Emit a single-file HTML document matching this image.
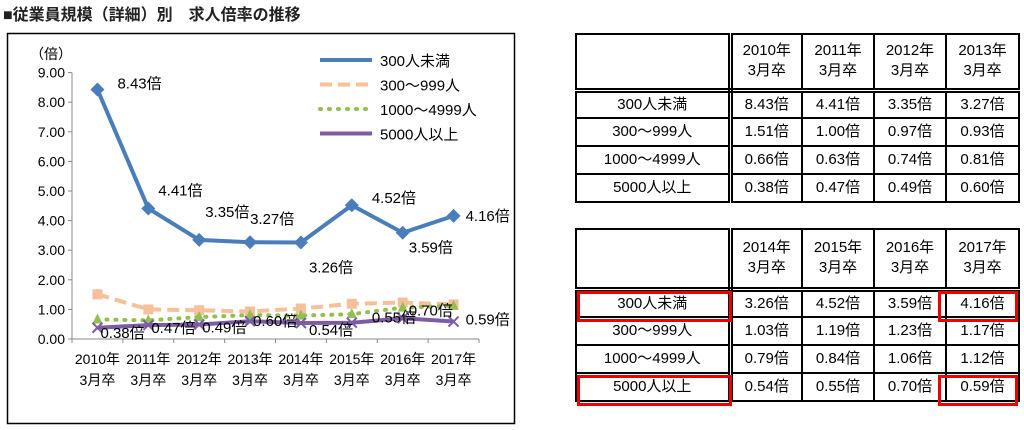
<!DOCTYPE html>
<html><head><meta charset="utf-8"><style>
body{margin:0;width:1024px;height:430px;background:#fff;font-family:"Liberation Sans","Noto Sans CJK JP",sans-serif;overflow:hidden;position:relative}
.t{position:absolute;border-collapse:collapse;font-size:15px;color:#000;table-layout:fixed}
.t td{border:2px solid #000;text-align:center;padding:0;line-height:20px}
.t td.lab{border-right:5px double #000}
.t tr.hr td{border-bottom:5px double #000}
.red{position:absolute;border:3px solid #e00;box-sizing:border-box}
</style></head><body>
<div style="position:absolute;left:3px;top:1px;font-size:16px;font-weight:bold;color:#222">■従業員規模（詳細）別　求人倍率の推移</div>
<svg width="530" height="430" style="position:absolute;left:0;top:0" font-family="Liberation Sans, Noto Sans CJK JP, sans-serif">
<rect x="7.5" y="33.5" width="507" height="390" fill="#fff" stroke="#000" stroke-width="1.5"/>
<g id="g"></g>
</svg>
<script>
const categories=["2010年","2011年","2012年","2013年","2014年","2015年","2016年","2017年"];
const s300=[8.43,4.41,3.35,3.27,3.26,4.52,3.59,4.16];
const s999=[1.51,1.00,0.97,0.93,1.03,1.19,1.23,1.17];
const s4999=[0.66,0.63,0.74,0.81,0.79,0.84,1.06,1.12];
const s5000=[0.38,0.47,0.49,0.60,0.54,0.55,0.70,0.59];
const yTicks=[0,1,2,3,4,5,6,7,8,9];
const lbl300=["8.43倍","4.41倍","3.35倍","3.27倍","3.26倍","4.52倍","3.59倍","4.16倍"];
const lbl5000=["0.38倍","0.47倍","0.49倍","0.60倍","0.54倍","0.55倍","0.70倍","0.59倍"];
const NS="http://www.w3.org/2000/svg";
const g=document.getElementById('g');
const x0=72,x1=479,y0=339,ppu=29.6,step=(x1-x0)/8;
const X=i=>x0+step*(i+0.5), Y=v=>y0-v*ppu;
function el(t,a,name){const e=document.createElementNS(NS,t);for(const k in a)e.setAttribute(k,a[k]);


g.appendChild(e);return e;}
function txt(x,y,s,name,anchor,size){const e=el('text',{x:x,y:y,'font-size':size||14,'text-anchor':anchor||'start',fill:'#000'},name);e.textContent=s;return e;}
el('line',{x1:x0,y1:Y(9),x2:x0,y2:y0,stroke:'#888'},'y-axis');
el('line',{x1:x0,y1:y0,x2:x1,y2:y0,stroke:'#888'},'x-axis');
yTicks.forEach(v=>{el('line',{x1:x0-4,y1:Y(v),x2:x0,y2:Y(v),stroke:'#888'},'y-tick');
txt(x0-7,Y(v)+5,v.toFixed(2),'y-tick-label','end',14);});
for(let i=0;i<=8;i++)el('line',{x1:x0+step*i,y1:y0,x2:x0+step*i,y2:y0+4,stroke:'#888'},'x-tick');
categories.forEach((c,i)=>{txt(X(i),364,c,'x-tick-label','middle',14);txt(X(i),385,'3月卒','x-tick-label','middle',14);});
txt(30,59,'（倍）','y-axis-title','start',14);
const pts=a=>a.map((v,i)=>X(i)+','+Y(v)).join(' ');
el('polyline',{points:pts(s999),fill:'none',stroke:'#f8c09a','stroke-width':4,'stroke-dasharray':'12,6'},'line-300-999');
s999.forEach((v,i)=>el('rect',{x:X(i)-5,y:Y(v)-5,width:10,height:10,fill:'#f8c09a'},'marker-300-999'));
el('polyline',{points:pts(s4999),fill:'none',stroke:'#92c050','stroke-width':4,'stroke-dasharray':'1,8','stroke-linecap':'round'},'line-1000-4999');
s4999.forEach((v,i)=>el('polygon',{points:`${X(i)},${Y(v)-6} ${X(i)-5},${Y(v)+4} ${X(i)+5},${Y(v)+4}`,fill:'#92c050'},'marker-1000-4999'));
el('polyline',{points:pts(s5000),fill:'none',stroke:'#7d5ca6','stroke-width':4},'line-5000');
s5000.forEach((v,i)=>el('path',{d:`M${X(i)-5},${Y(v)-5}L${X(i)+5},${Y(v)+5}M${X(i)-5},${Y(v)+5}L${X(i)+5},${Y(v)-5}`,stroke:'#7d5ca6','stroke-width':2},'marker-5000'));
el('polyline',{points:pts(s300),fill:'none',stroke:'#4a7ebb','stroke-width':4},'line-300');
s300.forEach((v,i)=>el('polygon',{points:`${X(i)},${Y(v)-7} ${X(i)+7},${Y(v)} ${X(i)},${Y(v)+7} ${X(i)-7},${Y(v)}`,fill:'#4a7ebb'},'marker-300'));
const off300=[[20,-1],[10,-13],[6,-23],[0,-18],[8,30],[20,-2],[6,20],[12,5]];
s300.forEach((v,i)=>txt(X(i)+off300[i][0],Y(v)+off300[i][1],lbl300[i],'data-label-300','start',15));
const off5=[[3,10],[3,8],[3,8],[3,5],[8,12],[20,0],[6,-3],[12,3]];
s5000.forEach((v,i)=>txt(X(i)+off5[i][0],Y(v)+off5[i][1],lbl5000[i],'data-label-5000','start',15));
const leg=[['300人未満','#4a7ebb','',4],['300～999人','#f8c09a','12,6',4],['1000～4999人','#92c050','1,8',4],['5000人以上','#7d5ca6','',4]];
leg.forEach((l,k)=>{const y=60+k*24.5;
el('line',{x1:320,y1:y,x2:372,y2:y,stroke:l[1],'stroke-width':4,'stroke-dasharray':l[2],'stroke-linecap':l[2]==='1,8'?'round':'butt'},'legend-line');
txt(380,y+6,l[0],'legend-entry','start',15);});
</script>
<table class="t" style="left:575px;top:33px;width:443px">
<colgroup><col style="width:154px"><col style="width:72px"><col style="width:72px"><col style="width:72px"><col style="width:73px"></colgroup>
<tr class="hr" style="height:56px"><td class="lab"></td><td>2010年<br>3月卒</td><td>2011年<br>3月卒</td><td>2012年<br>3月卒</td><td>2013年<br>3月卒</td></tr>
<tr style="height:28px"><td class="lab">300人未満</td><td>8.43倍</td><td>4.41倍</td><td>3.35倍</td><td>3.27倍</td></tr>
<tr style="height:28px"><td class="lab">300～999人</td><td>1.51倍</td><td>1.00倍</td><td>0.97倍</td><td>0.93倍</td></tr>
<tr style="height:28px"><td class="lab">1000～4999人</td><td>0.66倍</td><td>0.63倍</td><td>0.74倍</td><td>0.81倍</td></tr>
<tr style="height:28px"><td class="lab">5000人以上</td><td>0.38倍</td><td>0.47倍</td><td>0.49倍</td><td>0.60倍</td></tr>
</table>
<table class="t" style="left:575px;top:228px;width:443px">
<colgroup><col style="width:154px"><col style="width:72px"><col style="width:72px"><col style="width:72px"><col style="width:73px"></colgroup>
<tr class="hr" style="height:60px"><td class="lab"></td><td>2014年<br>3月卒</td><td>2015年<br>3月卒</td><td>2016年<br>3月卒</td><td>2017年<br>3月卒</td></tr>
<tr style="height:28px"><td class="lab">300人未満</td><td>3.26倍</td><td>4.52倍</td><td>3.59倍</td><td>4.16倍</td></tr>
<tr style="height:28px"><td class="lab">300～999人</td><td>1.03倍</td><td>1.19倍</td><td>1.23倍</td><td>1.17倍</td></tr>
<tr style="height:28px"><td class="lab">1000～4999人</td><td>0.79倍</td><td>0.84倍</td><td>1.06倍</td><td>1.12倍</td></tr>
<tr style="height:28px"><td class="lab">5000人以上</td><td>0.54倍</td><td>0.55倍</td><td>0.70倍</td><td>0.59倍</td></tr>
</table>
<div class="red" style="left:577px;top:291px;width:155px;height:31px"></div>
<div class="red" style="left:938px;top:291px;width:80px;height:31px"></div>
<div class="red" style="left:577px;top:375px;width:155px;height:31px"></div>
<div class="red" style="left:938px;top:375px;width:80px;height:31px"></div>
</body></html>
